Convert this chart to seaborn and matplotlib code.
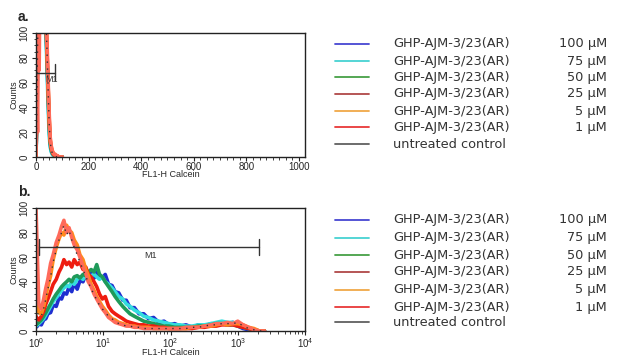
import numpy as np
import pandas as pd
import matplotlib
matplotlib.use('Agg')
import matplotlib.pyplot as plt
import matplotlib.ticker as mticker
from matplotlib.lines import Line2D
import seaborn as sns


# Series names / colours
SERIES = ['untreated control', '100 µM', '75 µM', '50 µM', '25 µM', '5 µM', '1 µM']
COMPOUND = 'GHP-AJM-3/23(AR)'
LEGEND_ROWS = ['100 µM', '75 µM', '50 µM', '25 µM', '5 µM', '1 µM', 'untreated control']
LEGEND_COLORS = ['#4646d2', '#46d2d2', '#46a046', '#b04848', '#f0a848', '#e83838', '#606060']
CURVE_COLORS = {'untreated control': '#303030', '100 µM': '#1f2fd0', '75 µM': '#33dede',
                '50 µM': '#1f9a5a', '25 µM': '#ee1c10', '5 µM': '#ff8a1c', '1 µM': '#ff6a5a'}


# Panel a: linear channel (0-1023)
a_channel = [0, 3, 6, 9, 12, 15, 18, 22, 26, 30, 34, 38, 42, 46, 50, 54, 58, 62, 66, 70, 74, 78, 82, 86, 92, 100]
a_counts = {
    'untreated control': [0, 40, 90, 130, 160, 170, 175, 170, 165, 150, 130, 110, 85, 55, 28, 12, 6, 3, 2, 1, 1, 0, 0, 0, 0, 0],
    '100 µM': [0, 35, 85, 125, 150, 165, 175, 170, 165, 150, 128, 104, 78, 50, 25, 10, 5, 3, 2, 1, 1, 0, 0, 0, 0, 0],
    '75 µM': [0, 30, 80, 120, 150, 165, 175, 170, 165, 150, 126, 100, 70, 42, 18, 8, 4, 2, 1, 1, 0, 0, 0, 0, 0, 0],
    '50 µM': [0, 35, 85, 125, 150, 165, 175, 170, 165, 152, 130, 106, 80, 52, 26, 11, 6, 3, 2, 1, 1, 0, 0, 0, 0, 0],
    '25 µM': [0, 40, 90, 128, 150, 168, 176, 172, 166, 154, 134, 110, 84, 56, 30, 13, 7, 4, 2, 2, 1, 1, 0, 0, 0, 0],
    '5 µM': [0, 42, 92, 130, 152, 168, 178, 172, 168, 156, 136, 112, 86, 58, 32, 14, 8, 5, 3, 2, 2, 1, 1, 0, 0, 0],
    '1 µM': [0, 60, 20, 110, 70, 140, 180, 175, 170, 160, 140, 118, 92, 62, 36, 16, 9, 5, 3, 2, 2, 1, 1, 0, 0, 0],
}

# Panel b: log channel (10^0 - 10^4)
b_channel = [1.0, 1.05, 1.1, 1.2, 1.3, 1.4, 1.5, 1.65, 1.8, 2.0, 2.2, 2.4, 2.6, 2.85, 3.1, 3.4, 3.7, 4.1, 4.5, 5.0,
             5.5, 6.0, 6.6, 7.3, 8.0, 8.8, 9.7, 10.7, 12, 13.5, 15, 17, 19.5, 22, 25, 29, 34, 40, 47, 56,
             67, 80, 95, 115, 140, 170, 210, 260, 320, 400, 480, 580, 700, 850, 1000, 1200, 1450, 1750, 2100, 2500]
b_counts = {
    'untreated control': [20, 15, 12, 12, 18, 26, 34, 44, 56, 66, 74, 80, 86, 78, 82, 74, 68, 62, 56, 50,
                          44, 40, 34, 30, 25, 21, 18, 15, 12, 10, 8, 6, 5, 4, 4, 3, 3, 2, 2, 2,
                          2, 2, 2, 2, 2, 2, 3, 3, 4, 5, 5, 6, 6, 6, 7, 4, 2, 1, 0, 0],
    '100 µM': [3, 4, 6, 5, 9, 10, 14, 15, 21, 20, 27, 26, 31, 30, 36, 32, 39, 34, 41, 40,
               46, 41, 47, 43, 48, 44, 43, 46, 38, 37, 32, 31, 25, 25, 19, 19, 14, 14, 10, 11,
               7, 8, 5, 6, 4, 5, 3, 5, 4, 6, 5, 7, 6, 7, 4, 2, 1, 0, 0, 0],
    '75 µM': [4, 5, 6, 8, 10, 13, 16, 20, 24, 27, 30, 33, 35, 37, 36, 40, 38, 42, 44, 42,
              46, 44, 45, 46, 44, 42, 44, 40, 38, 35, 32, 28, 26, 22, 20, 17, 15, 12, 11, 9,
              8, 7, 6, 5, 5, 4, 4, 5, 5, 6, 7, 8, 7, 7, 5, 3, 2, 1, 0, 0],
    '50 µM': [5, 6, 7, 9, 12, 15, 18, 22, 26, 30, 33, 36, 38, 40, 42, 40, 44, 45, 43, 46,
              45, 48, 50, 48, 54, 46, 44, 40, 36, 32, 28, 24, 20, 17, 14, 12, 10, 8, 7, 6,
              5, 4, 4, 3, 3, 3, 3, 4, 4, 5, 6, 6, 5, 5, 4, 3, 2, 1, 0, 0],
    '25 µM': [12, 10, 9, 12, 16, 22, 26, 32, 38, 42, 48, 52, 58, 54, 56, 52, 58, 54, 56, 50,
              52, 46, 44, 40, 36, 30, 26, 28, 20, 16, 14, 12, 10, 8, 7, 6, 5, 5, 4, 4,
              3, 3, 2, 2, 2, 2, 2, 3, 3, 4, 4, 5, 5, 5, 4, 3, 2, 1, 0, 0],
    '5 µM': [30, 20, 15, 14, 20, 28, 36, 45, 58, 68, 75, 80, 78, 86, 82, 80, 74, 70, 62, 58,
             50, 45, 38, 33, 28, 24, 20, 17, 13, 10, 9, 7, 6, 5, 4, 4, 3, 3, 3, 2,
             2, 2, 2, 2, 2, 2, 3, 3, 4, 4, 5, 6, 5, 6, 6, 5, 3, 2, 0, 0],
    '1 µM': [100, 60, 22, 18, 26, 35, 42, 55, 62, 72, 78, 85, 90, 80, 84, 76, 70, 66, 60, 52,
             47, 40, 36, 30, 26, 22, 18, 15, 11, 9, 7, 6, 5, 4, 4, 3, 3, 2, 2, 2,
             2, 2, 2, 2, 2, 3, 3, 3, 4, 5, 6, 6, 7, 6, 8, 5, 3, 1, 0, 0],
}

# M1 gate markers
a_gate = (1, 72)
b_gate = (1.1, 2100)
gate_level = 68


def long_frame(channel, counts):
    frames = []
    for name in SERIES:
        frames.append(pd.DataFrame({'channel': channel, 'counts': counts[name], 'series': name}))
    return pd.concat(frames, ignore_index=True)


sns.set_style('ticks')
plt.rcParams['font.family'] = ['Liberation Sans', 'DejaVu Sans']

fig = plt.figure(figsize=(6.22, 3.58), dpi=100)
ax_a = fig.add_axes([36 / 622, 1 - 157 / 358, 269 / 622, 124 / 358])
ax_b = fig.add_axes([36 / 622, 1 - 331 / 358, 269 / 622, 123 / 358])

df_a = long_frame(a_channel, a_counts)
df_b = long_frame(b_channel, b_counts)
# drawing order: later ones on top
curve_order = ['100 µM', '75 µM', '50 µM', '25 µM', '5 µM', '1 µM']

for ax, df in [(ax_a, df_a), (ax_b, df_b)]:
    sns.lineplot(data=df[df['series'] != 'untreated control'], x='channel', y='counts', hue='series',
                 hue_order=curve_order, palette=CURVE_COLORS, estimator=None, sort=False,
                 legend=False, linewidth=2.6, ax=ax)
    ctrl = df[df['series'] == 'untreated control']
    sns.lineplot(data=ctrl, x='channel', y='counts', color=CURVE_COLORS['untreated control'],
                 estimator=None, sort=False, legend=False, linewidth=1.0, dashes=False,
                 linestyle=(0, (1, 4)), ax=ax)

# axes formatting
ax_a.set_xlim(0, 1023)
ax_a.xaxis.set_major_locator(mticker.MultipleLocator(200))
ax_a.xaxis.set_minor_locator(mticker.MultipleLocator(25))
ax_b.set_xscale('log')
ax_b.set_xlim(1, 10000)
ax_b.xaxis.set_major_locator(mticker.LogLocator(base=10, numticks=10))
ax_b.xaxis.set_minor_locator(mticker.LogLocator(base=10, subs=np.arange(2, 10), numticks=10))

for ax, gate in [(ax_a, a_gate), (ax_b, b_gate)]:
    ax.set_ylim(0, 100)
    ax.yaxis.set_major_locator(mticker.MultipleLocator(20))
    ax.yaxis.set_minor_locator(mticker.MultipleLocator(5))
    ax.tick_params(which='major', direction='out', length=3, width=0.8, labelsize=7, pad=1.5, color='#222222')
    ax.tick_params(axis='x', which='major', pad=0.5)
    ax.tick_params(which='minor', direction='out', length=1.8, width=0.6, color='#222222')
    for lab in ax.get_yticklabels():
        lab.set_rotation(90)
        lab.set_va('center')
    for s in ax.spines.values():
        s.set_visible(True)
        s.set_linewidth(1.0)
        s.set_color('#222222')
    ax.set_xlabel('FL1-H Calcein', fontsize=6.5, labelpad=-1)
    ax.set_ylabel('Counts', fontsize=6.5, labelpad=1)
    # gate marker M1
    ax.plot(list(gate), [gate_level, gate_level], color='#333333', lw=1.0)
    for gx in gate:
        ax.plot([gx, gx], [gate_level - 6, gate_level + 7], color='#333333', lw=1.0)

ax_a.text(58, gate_level - 2, 'M1', fontsize=6.5, color='#333333', ha='center', va='top')
ax_b.text(50, gate_level - 3, 'M1', fontsize=6.5, color='#333333', ha='center', va='top')

fig.text(18 / 622, 1 - 17 / 358, 'a.', fontsize=10, fontweight='bold', va='center', ha='left')
fig.text(18 / 622, 1 - 192 / 358, 'b.', fontsize=10, fontweight='bold', va='center', ha='left')

# custom legends on the right
legend_rows_y = {'a': [44, 61, 77, 94, 111, 127, 144], 'b': [220, 238, 255, 272, 290, 307, 322]}
for key, rows in legend_rows_y.items():
    for name, color, y in zip(LEGEND_ROWS, LEGEND_COLORS, rows):
        yf = 1 - y / 358
        fig.add_artist(Line2D([335 / 622, 369 / 622], [yf, yf], transform=fig.transFigure,
                              color=color, lw=1.3))
        if name == 'untreated control':
            fig.text(393 / 622, yf, name, fontsize=9.3, family='DejaVu Sans', color='#333333', va='center')
        else:
            fig.text(393 / 622, yf, COMPOUND, fontsize=9.3, family='DejaVu Sans', color='#333333', va='center')
            fig.text(607 / 622, yf, name, fontsize=9.3, family='DejaVu Sans', color='#333333',
                     va='center', ha='right')

fig.savefig('out.png', dpi=100)
